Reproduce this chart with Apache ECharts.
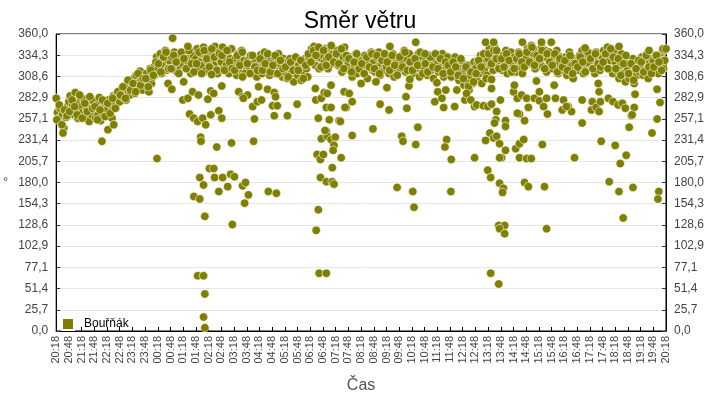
<!DOCTYPE html>
<html>
<head>
<meta charset="utf-8">
<script src="https://cdn.jsdelivr.net/npm/echarts@6/dist/echarts.min.js"></script>
<style>
  html, body { margin: 0; padding: 0; background: #fff; }
  #chart { width: 720px; height: 400px; }
</style>
</head>
<body>
<div id="chart"></div>
<script>
// time axis: minutes after 20:18, labels every 30 minutes
const startMinute = 20 * 60 + 18;
const bandStep = 3;
const band2Step = 6;
const band2Offset = 1.5;

// main cloud of readings, one every 3 minutes (10 per 30-minute slot)
const bandDirs = [
  282, 265, 258, 270, 252, 262, 246, 266, 259, 272,
  278, 285, 268, 274, 262, 289, 270, 258, 276, 283,
  272, 265, 281, 259, 268, 276, 254, 270, 262, 279,
  266, 258, 274, 262, 283, 255, 270, 261, 277, 264,
  268, 280, 262, 274, 258, 285, 276, 270, 288, 281,
  278, 292, 284, 296, 288, 280, 299, 290, 286, 302,
  295, 306, 288, 310, 300, 297, 315, 303, 292, 308,
  298, 312, 305, 290, 318, 300, 308, 320, 311, 332,
  318, 326, 336, 312, 330, 322, 340, 316, 328, 320,
  325, 332, 318, 338, 322, 314, 330, 335, 320, 328,
  322, 336, 318, 330, 325, 340, 312, 328, 334, 320,
  330, 342, 318, 326, 336, 322, 344, 315, 332, 327,
  335, 322, 340, 318, 330, 345, 326, 312, 338, 328,
  326, 344, 318, 332, 322, 338, 312, 330, 342, 320,
  322, 330, 310, 336, 318, 326, 340, 314, 328, 320,
  316, 328, 320, 334, 312, 324, 318, 330, 308, 322,
  320, 335, 312, 326, 338, 318, 330, 322, 310, 328,
  318, 326, 332, 312, 324, 336, 316, 322, 308, 330,
  314, 326, 306, 320, 330, 312, 322, 302, 318, 328,
  310, 322, 316, 304, 326, 314, 330, 318, 308, 332,
  336, 342, 328, 345, 322, 338, 332, 318, 340, 330,
  334, 326, 342, 330, 318, 338, 344, 324, 336, 328,
  330, 340, 322, 336, 326, 314, 332, 344, 320, 328,
  324, 316, 332, 308, 326, 320, 336, 312, 322, 330,
  318, 328, 312, 334, 322, 306, 326, 320, 338, 316,
  326, 314, 332, 320, 338, 310, 324, 330, 316, 322,
  320, 330, 312, 326, 318, 336, 308, 324, 328, 316,
  328, 318, 334, 324, 340, 314, 330, 322, 336, 320,
  322, 312, 330, 318, 326, 336, 308, 324, 332, 316,
  318, 328, 310, 324, 334, 316, 322, 306, 330, 320,
  324, 314, 330, 320, 336, 308, 326, 318, 332, 316,
  320, 308, 326, 316, 332, 312, 322, 304, 318, 328,
  312, 298, 318, 304, 322, 292, 310, 316, 300, 326,
  318, 306, 326, 312, 334, 300, 322, 316, 330, 310,
  330, 342, 322, 336, 316, 344, 328, 338, 320, 334,
  326, 316, 334, 322, 340, 312, 330, 324, 338, 318,
  322, 332, 314, 328, 338, 320, 326, 312, 334, 324,
  332, 342, 324, 338, 346, 328, 336, 318, 340, 330,
  336, 326, 344, 320, 332, 340, 314, 330, 338, 324,
  328, 318, 334, 322, 340, 312, 326, 332, 316, 324,
  320, 332, 310, 326, 338, 314, 322, 306, 330, 318,
  326, 316, 334, 322, 340, 312, 328, 336, 318, 324,
  324, 334, 318, 330, 312, 338, 322, 328, 316, 332,
  330, 340, 322, 336, 344, 318, 328, 334, 312, 338,
  326, 316, 332, 306, 322, 336, 312, 328, 302, 320,
  318, 306, 324, 312, 330, 300, 320, 310, 326, 314,
  322, 332, 310, 328, 316, 336, 306, 324, 318, 330,
  326, 316, 334, 322, 312, 330, 320, 338, 318, 328
];

// in-between readings of the main cloud, one every 6 minutes (5 per slot)
const band2Dirs = [
  256, 274, 250, 268, 261,
  266, 280, 272, 262, 286,
  258, 276, 266, 284, 270,
  272, 256, 268, 280, 260,
  276, 264, 282, 270, 290,
  286, 296, 282, 304, 292,
  300, 290, 312, 298, 306,
  306, 296, 316, 310, 326,
  324, 314, 332, 338, 318,
  318, 334, 326, 312, 338,
  330, 318, 340, 324, 314,
  324, 338, 312, 340, 330,
  320, 342, 332, 316, 336,
  334, 316, 340, 326, 318,
  316, 334, 322, 338, 312,
  324, 312, 334, 320, 316,
  330, 316, 324, 336, 314,
  322, 334, 312, 328, 318,
  320, 308, 326, 316, 332,
  316, 328, 306, 322, 336,
  326, 340, 334, 344, 320,
  340, 322, 332, 346, 326,
  336, 324, 342, 318, 334,
  330, 314, 326, 336, 318,
  324, 312, 332, 320, 336,
  318, 334, 312, 328, 336,
  326, 316, 334, 322, 310,
  332, 320, 338, 316, 326,
  316, 330, 322, 338, 312,
  324, 314, 332, 320, 336,
  318, 330, 312, 326, 322,
  314, 326, 320, 310, 330,
  306, 320, 296, 314, 302,
  312, 328, 320, 336, 306,
  336, 324, 340, 330, 318,
  330, 320, 336, 328, 314,
  318, 330, 336, 326, 320,
  338, 326, 344, 322, 334,
  330, 340, 318, 336, 326,
  322, 336, 314, 330, 320,
  328, 316, 334, 312, 324,
  320, 332, 326, 314, 338,
  330, 318, 336, 324, 320,
  326, 336, 318, 342, 332,
  318, 330, 310, 324, 334,
  312, 324, 304, 318, 328,
  326, 314, 334, 320, 312,
  320, 334, 326, 316, 340
];

// scattered readings away from the main cloud (minute offset, direction)
const outMinutes = [
  16, 108, 122, 136, 238, 275, 311, 264, 273, 301, 299, 311, 322, 336, 358, 365, 372, 391,
  315, 325, 334, 346, 353, 365, 384, 391, 341, 342, 379, 414, 466, 362, 372, 339, 348, 374,
  393, 384, 405, 412, 421, 440, 447, 454, 445, 325, 339, 351, 416, 334, 348, 351, 348, 351,
  431, 440, 452, 442, 464, 468, 475, 478, 440, 367,
  485, 499, 515, 518, 511, 522, 515, 546, 569, 501, 520, 612, 613, 626, 633, 640, 649, 638,
  649, 619, 668, 638, 626, 640, 649, 659, 656, 654, 616, 624, 631, 673, 624, 652, 638, 652,
  656, 699, 619, 614, 621, 638, 680, 692, 685, 699, 720, 645, 635, 671, 682,
  755, 781, 765, 786, 748, 826, 828, 833, 835, 816, 819, 854, 849, 805, 842, 845, 932, 894,
  901, 911, 915, 941, 920, 922, 918, 933, 965, 946, 899, 788, 849, 871,
  969, 979, 988, 988, 993, 1009, 1019, 1028, 1028, 1028, 1049, 1040, 1038, 1035, 1061, 1061,
  1024, 1014, 1033, 1040, 1047, 1061, 1085, 1094, 1104, 1052, 1094, 1111, 1122, 1148, 1019,
  1026, 1047, 1056, 1054, 1106, 1115, 1153, 1045, 1059, 1047, 1059, 1158, 1026, 1045, 1080,
  1082, 1089, 1099, 1111, 1115, 1106, 1094, 1129, 1141, 1141, 1151, 1160, 1158, 1179, 1198,
  1195, 1209, 1176, 1134, 1014, 1033, 1040, 1101, 1146, 1169, 1047, 1089,
  1217, 1205, 1224, 1242, 1242, 1266, 1264, 1275, 1282, 1285, 1282, 1280, 1304, 1315, 1327,
  1337, 1344, 1358, 1365, 1367, 1353, 1360, 1287, 1320, 1346, 1332, 1306, 1329, 1362, 1339,
  1419, 1426, 1419, 1407, 1423, 1421, 1249, 1329, 1400, 1433, 1440
];
const outDirs = [
  240, 230, 244, 250, 209, 355, 345, 300, 293, 302, 280, 282, 290, 286, 281, 291, 288, 297,
  263, 258, 254, 258, 250, 262, 267, 258, 235, 230, 223, 228, 230, 197, 197, 186, 177, 186,
  186, 169, 175, 190, 187, 176, 180, 165, 155, 163, 160, 139, 129, 67, 67, 45, 17, 4,
  290, 284, 286, 282, 272, 257, 278, 296, 308, 311,
  280, 293, 289, 284, 273, 273, 261, 261, 275, 169, 167, 294, 280, 282, 289, 288, 298, 271,
  271, 258, 255, 242, 233, 236, 232, 235, 225, 219, 214, 208, 214, 210, 186, 198, 181, 181,
  178, 237, 147, 122, 70, 70, 290, 288, 271, 278, 300, 256, 243, 254, 271,
  302, 295, 275, 268, 245, 284, 270, 297, 305, 236, 230, 247, 226, 174, 169, 150, 169, 278,
  290, 282, 271, 272, 292, 232, 223, 208, 280, 292, 301, 345, 350, 336,
  288, 280, 272, 210, 274, 273, 272, 275, 305, 294, 280, 266, 256, 252, 255, 248,
  240, 231, 234, 236, 227, 219, 221, 227, 232, 210, 210, 209, 209, 226, 195,
  186, 179, 173, 168, 180, 175, 175, 128, 128, 124, 118, 124, 70, 57, 290,
  298, 282, 286, 282, 271, 255, 263, 282, 290, 279, 272, 263, 282, 282, 280,
  268, 272, 298, 303, 350, 350, 340, 350, 350, 350, 210, 264,
  266, 272, 210, 280, 252, 278, 268, 271, 266, 278, 290, 300, 282, 278, 274,
  276, 270, 261, 271, 287, 247, 262, 230, 225, 213, 203, 181, 169, 174, 137,
  293, 277, 257, 240, 169, 160, 343, 345, 340, 342, 342
];

const yMax = 360;
const yStep = yMax / 14;

const points = bandDirs.map((v, i) => [i * bandStep, v])
  .concat(band2Dirs.map((v, i) => [band2Offset + i * band2Step, v]))
  .concat(outMinutes.map((m, i) => [m, outDirs[i]]));

const fmtTime = (m) => {
  const t = (startMinute + m) % 1440;
  const h = Math.floor(t / 60);
  const mm = t % 60;
  return String(h).padStart(2, '0') + ':' + String(mm).padStart(2, '0');
};
const fmtDir = (v) => v.toFixed(1).replace('.', ',');

const chart = echarts.init(document.getElementById('chart'));

const yAxisBase = {
  type: 'value',
  min: 0,
  max: yMax,
  interval: yStep,
  axisLine: { show: true, lineStyle: { color: '#000' } },
  axisTick: { show: true, inside: true, length: 4, lineStyle: { color: '#333' } },
  axisLabel: {
    color: '#444',
    fontSize: 12,
    fontFamily: 'Liberation Sans',
    formatter: fmtDir
  }
};

chart.setOption({
  animation: false,
  title: {
    text: 'Směr větru',
    left: 'center',
    top: 5,
    textStyle: {
      fontSize: 23,
      fontWeight: 'normal',
      color: '#000',
      fontFamily: 'Liberation Sans'
    }
  },
  legend: {
    data: ['Bouřňák'],
    left: 56,
    top: 312,
    icon: 'rect',
    itemWidth: 12,
    itemHeight: 12,
    itemGap: 8,
    textStyle: {
      color: '#000',
      fontSize: 12,
      fontFamily: 'Liberation Sans',
      padding: [0, 0, 0, 5]
    }
  },
  grid: {
    left: 54,
    right: 54,
    top: 34,
    bottom: 69,
    show: true,
    borderColor: '#000',
    borderWidth: 1
  },
  xAxis: {
    type: 'value',
    min: 0,
    max: 1440,
    interval: 30,
    name: 'Čas',
    nameLocation: 'middle',
    nameGap: 47,
    nameTextStyle: { color: '#555', fontSize: 16, fontFamily: 'Liberation Sans' },
    axisLine: { show: true, lineStyle: { color: '#000' } },
    axisTick: { show: true, inside: true, length: 4, lineStyle: { color: '#000' } },
    splitLine: { show: false },
    axisLabel: {
      rotate: 90,
      color: '#444',
      fontSize: 11,
      fontFamily: 'Liberation Sans',
      margin: 5,
      formatter: fmtTime
    }
  },
  yAxis: [
    Object.assign({}, yAxisBase, {
      position: 'left',
      name: '°',
      nameLocation: 'middle',
      nameRotate: 0,
      nameGap: 48,
      nameTextStyle: { color: '#444', fontSize: 13, fontFamily: 'Liberation Sans' },
      splitLine: { show: true, lineStyle: { color: '#e6e6e6' } }
    }),
    Object.assign({}, yAxisBase, {
      position: 'right',
      splitLine: { show: false }
    })
  ],
  series: [
    {
      name: 'Bouřňák',
      type: 'scatter',
      yAxisIndex: 0,
      symbol: 'circle',
      symbolSize: 8.5,
      itemStyle: { color: '#808000', borderColor: '#fff', borderWidth: 0.6, opacity: 1 },
      data: points
    }
  ]
});
</script>
</body>
</html>
